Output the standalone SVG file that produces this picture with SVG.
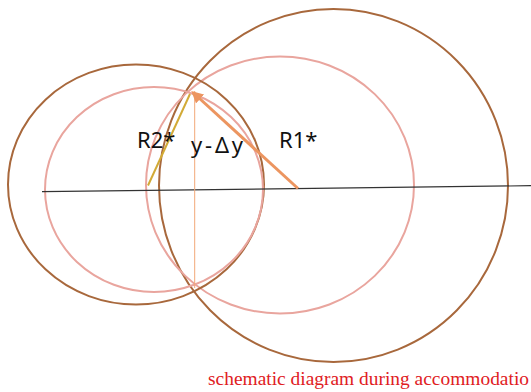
<svg xmlns="http://www.w3.org/2000/svg" width="531" height="392" viewBox="0 0 531 392">
<defs>
<style>
.brown{fill:none;stroke:#A8683C;stroke-width:2}
.pink{fill:none;stroke:#E9A59E;stroke-width:2}
.lbl{font-family:"Noto Sans","Open Sans",sans-serif;font-size:22px;fill:#111}
.cap{font-family:"Liberation Serif","Times New Roman",serif;font-size:19.5px;fill:#E0201E}
</style>
<marker id="ah" viewBox="0 0 10 10" refX="8" refY="5" markerWidth="4" markerHeight="4" orient="auto">
<path d="M0,0 L10,5 L0,10 z" fill="#EC9560"/>
</marker>
</defs>
<rect width="531" height="392" fill="#fff"/>
<g id="circle-big-brown"><ellipse class="brown" cx="333.5" cy="185.5" rx="174.5" ry="176.5"/></g>
<g id="circle-big-pink"><ellipse class="pink" cx="280" cy="185" rx="134" ry="128.5"/></g>
<g id="circle-small-brown"><ellipse class="brown" cx="136" cy="184.5" rx="128" ry="120"/></g>
<g id="circle-small-pink"><ellipse class="pink" cx="154" cy="189.5" rx="109" ry="102.5"/></g>
<g id="connectors">
<line x1="42" y1="191.7" x2="531" y2="185.7" stroke="#333" stroke-width="1.2"/>
<line x1="194.7" y1="91" x2="194.7" y2="288" stroke="#F2A878" stroke-width="1"/>
<line x1="148" y1="185.5" x2="190" y2="94" stroke="#D2AA36" stroke-width="2"/>
<line x1="298" y1="188.5" x2="193" y2="92.5" stroke="#EC9560" stroke-width="3" marker-end="url(#ah)"/>
</g>
<g id="labels">
<text class="lbl" x="137" y="148.3">R2*</text>
<text class="lbl" x="279" y="148.3">R1*</text>
<text class="lbl" x="191" y="153.3" textLength="52" lengthAdjust="spacing">y-Δy</text>
</g>
<text class="cap" x="208" y="385" textLength="321" lengthAdjust="spacingAndGlyphs">schematic diagram during accommodatio</text>
</svg>
